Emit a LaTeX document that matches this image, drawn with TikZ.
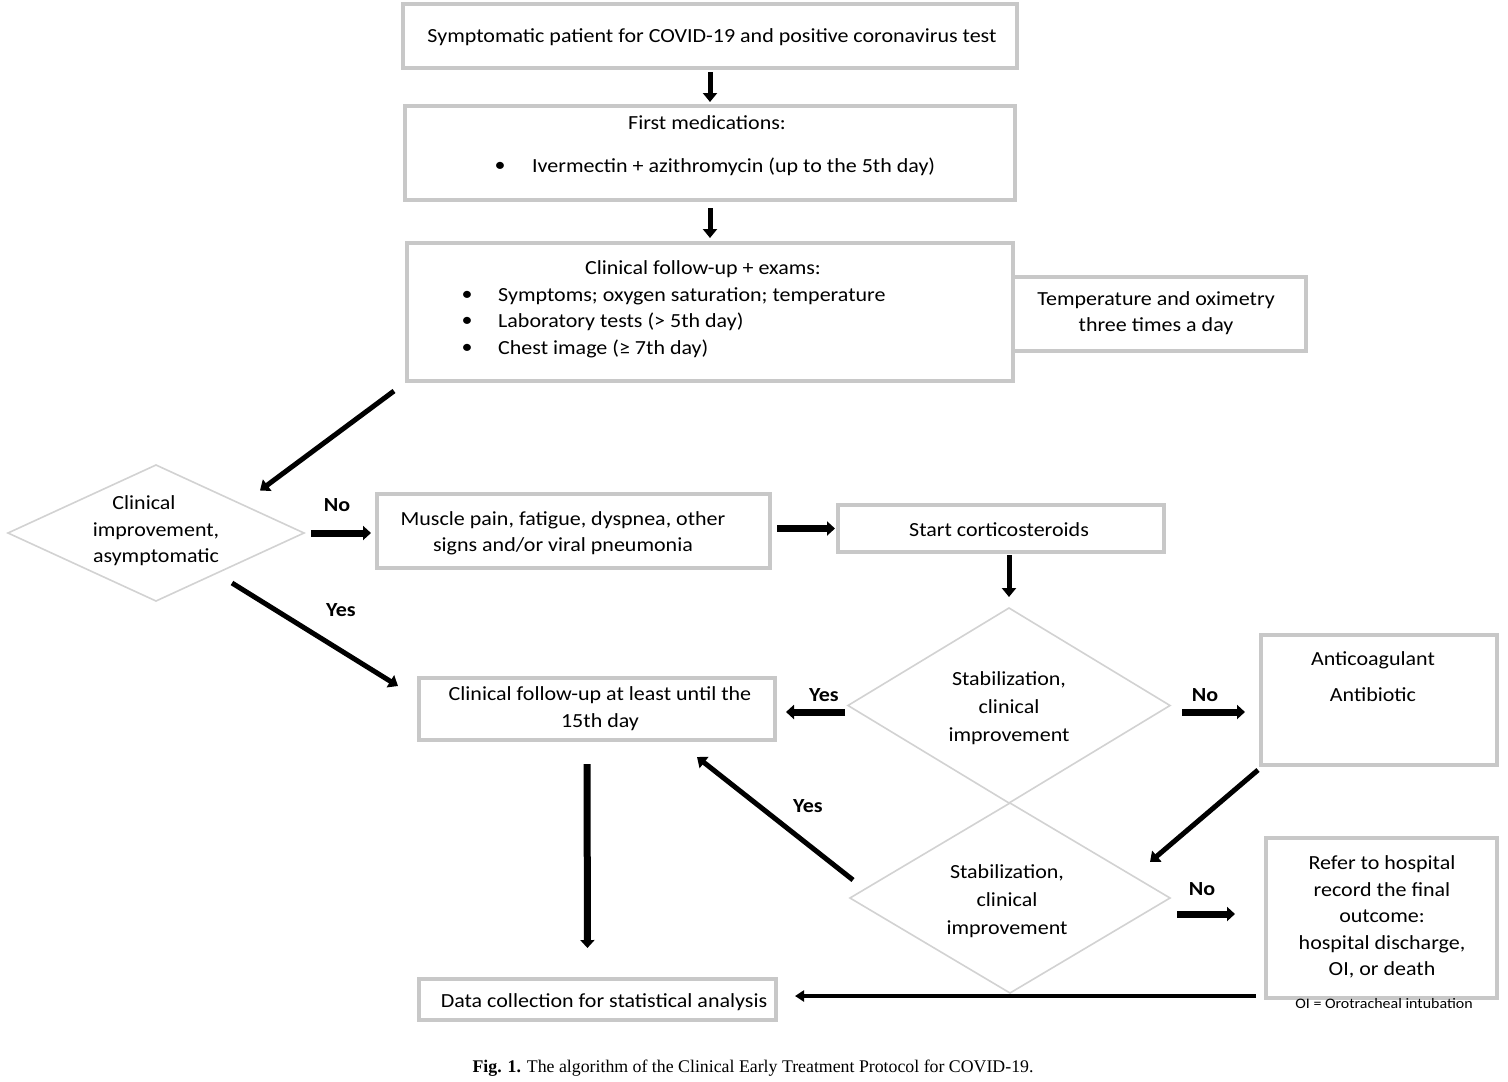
\documentclass[tikz,border=0pt]{standalone}
\usepackage{fontspec}
\setmainfont{Carlito}[FakeStretch=1.1]
\newfontfamily\capfont{Liberation Serif}
\usetikzlibrary{arrows.meta,calc,shapes.geometric}
\definecolor{boxgray}{RGB}{200,200,200}
\definecolor{dgray}{RGB}{210,210,210}
\tikzset{
  box/.style={draw=boxgray,line width=3.5pt,fill=white,rectangle,inner sep=0pt,outer sep=0pt},
  dia/.style={draw=dgray,line width=1.6pt,fill=white,diamond,inner sep=0pt,outer sep=0pt},
  txt/.style={inner sep=0pt,align=center,font=\fontsize{20}{26.5}\selectfont},
  lbl/.style={inner sep=0pt,font=\fontsize{20}{22}\selectfont\bfseries},
  arr/.style={line width=5pt,-{Triangle[length=9pt,width=14pt]}},
  arrh/.style={line width=7pt,-{Triangle[length=8pt,width=14pt]}},
  arrthin/.style={line width=4pt,-{Triangle[length=9pt,width=11pt]}},
}
\begin{document}
\begin{tikzpicture}[x=1pt,y=-1pt]
\useasboundingbox[fill=white] (0,0) rectangle (1508,1082);
% boxes
\node[box,minimum width=614pt,minimum height=64pt] (b1) at (710,36) {};
\node[box,minimum width=610pt,minimum height=94pt] (b2) at (710,153) {};
\node[box,minimum width=293pt,minimum height=74pt] (bs) at (1159.5,314) {};
\node[box,minimum width=606pt,minimum height=138pt] (b3) at (710,312) {};
\node[dia,minimum width=296pt,minimum height=136pt] (d1) at (156,533) {};
\node[box,minimum width=393pt,minimum height=74pt] (b4) at (573.5,531) {};
\node[box,minimum width=326pt,minimum height=47pt] (b5) at (1001,528.5) {};
\node[dia,minimum width=322pt,minimum height=195pt] (d2) at (1009,705.5) {};
\node[dia,minimum width=320pt,minimum height=190pt] (d3) at (1010,898) {};
\node[box,minimum width=356pt,minimum height=62pt] (b6) at (597,709) {};
\node[box,minimum width=236pt,minimum height=130pt] (b7) at (1379,700) {};
\node[box,minimum width=231pt,minimum height=160pt] (b8) at (1381.5,918) {};
\node[box,minimum width=357pt,minimum height=41pt] (b9) at (597.5,999.5) {};
% texts
\node[txt] (t1) at (712,37) {Symptomatic patient for COVID-19 and positive coronavirus test};
\node[txt] (t2) at (707,123) {First medications:};
\node[txt] (t2a) at (500,167) {•};
\node[txt,anchor=west] (t2b) at (532,167) {Ivermectin + azithromycin (up to the 5th day)};
\node[txt] (t3) at (703,269) {Clinical follow-up + exams:};
\node[txt] (t3a) at (467,296) {•};
\node[txt] (t3b) at (467,322) {•};
\node[txt] (t3c) at (467,349) {•};
\node[txt,anchor=west] (t3d) at (498,296) {Symptoms; oxygen saturation; temperature};
\node[txt,anchor=west] (t3e) at (498,322) {Laboratory tests (> 5th day)};
\node[txt,anchor=west] (t3f) at (498,349) {Chest image (≥ 7th day)};
\node[txt] (ts) at (1156,313) {Temperature and oximetry\\three times a day};
\node[txt] (td1) at (156,531) {Clinical\hspace*{24pt}\\improvement,\\asymptomatic};
\node[txt] (t4) at (563,533.5) {Muscle pain, fatigue, dyspnea, other\\signs and/or viral pneumonia};
\node[txt] (t5) at (999,530) {Start corticosteroids};
\node[txt,font=\fontsize{20}{28}\selectfont] (td2) at (1009,708) {Stabilization,\\clinical\\improvement};
\node[txt,font=\fontsize{20}{28}\selectfont] (td3) at (1007,901) {Stabilization,\\clinical\hspace*{14pt}\\improvement};
\node[txt] (t6) at (600,708.5) {Clinical follow-up at least until the\\15th day};
\node[txt,font=\fontsize{20}{36}\selectfont] (t7) at (1373,677) {Anticoagulant\\Antibiotic};
\node[txt] (t8) at (1382,917) {Refer to hospital\\record the final\\outcome:\\hospital discharge,\\OI, or death};
\node[txt] (t9) at (604,1002) {Data collection for statistical analysis};
\node[inner sep=0pt,font=\fontsize{14.5}{16}\selectfont] (toi) at (1384,1004) {OI = Orotracheal intubation};
\node[inner sep=0pt,font=\capfont\fontsize{17.8}{20}\selectfont] (cap) at (753,1068) {\textbf{Fig. 1.} The algorithm of the Clinical Early Treatment Protocol for COVID-19.};
% labels
\node[lbl] (l1) at (337,505) {No};
\node[lbl] (l2) at (341,610) {Yes};
\node[lbl] (l3) at (824,695) {Yes};
\node[lbl] (l4) at (1205,695) {No};
\node[lbl] (l5) at (808,806) {Yes};
\node[lbl] (l6) at (1202,889) {No};
% connectors
\draw[arr,shorten <=4pt,shorten >=4pt] (b1) -- (b2);
\draw[arr,shorten <=8pt,shorten >=5pt] (b2) -- (b3);
\draw[arr] ($(b3.south west)+(-13,10)$) -- ($(d1.north east)+(30,-8.5)$);
\draw[arrh,shorten <=7pt,shorten >=6pt] (d1.east) -- (d1.east -| b4.west);
\draw[arrh,shorten <=7pt,shorten >=3pt] (b4.east |- b5.west) -- (b5.west);
\draw[arr,shorten <=3pt,shorten >=11pt] (b5.south -| d2.north) -- (d2.north);
\draw[arrh,shorten <=3pt,shorten >=11pt] ($(d2.west)+(0,6.5)$) -- ($(d2.west -| b6.east)+(0,6.5)$);
\draw[arrh,shorten <=12pt,shorten >=16pt] ($(d2.east)+(0,6.5)$) -- ($(d2.east -| b7.west)+(0,6.5)$);
\draw[arr] ($(d1.south east)+(2,16)$) -- ($(b6.north west)+(-21,8)$);
\draw[arr] ($(b7.south west)+(-3,5)$) -- ($(d3.north east)+(60,11.5)$);
\draw[arr] ($(d3.west)+(3,-18)$) -- ($(b6.south east)+(-78,17)$);
\draw[arrh,shorten <=7pt,shorten >=31pt] ($(d3.east |- b8.west)+(0,-4)$) -- ($(b8.west)+(0,-4)$);
\draw[arrh,shorten <=24pt,shorten >=31pt] ($(b6.south)+(-10,0)$) -- ($(b9.north)+(-10,0)$);
\draw[arrthin] ($(b8.south west)+(-10,-2)$) -- ($(b9.east |- b8.south west)+(19,-2)$);
\end{tikzpicture}
\end{document}
